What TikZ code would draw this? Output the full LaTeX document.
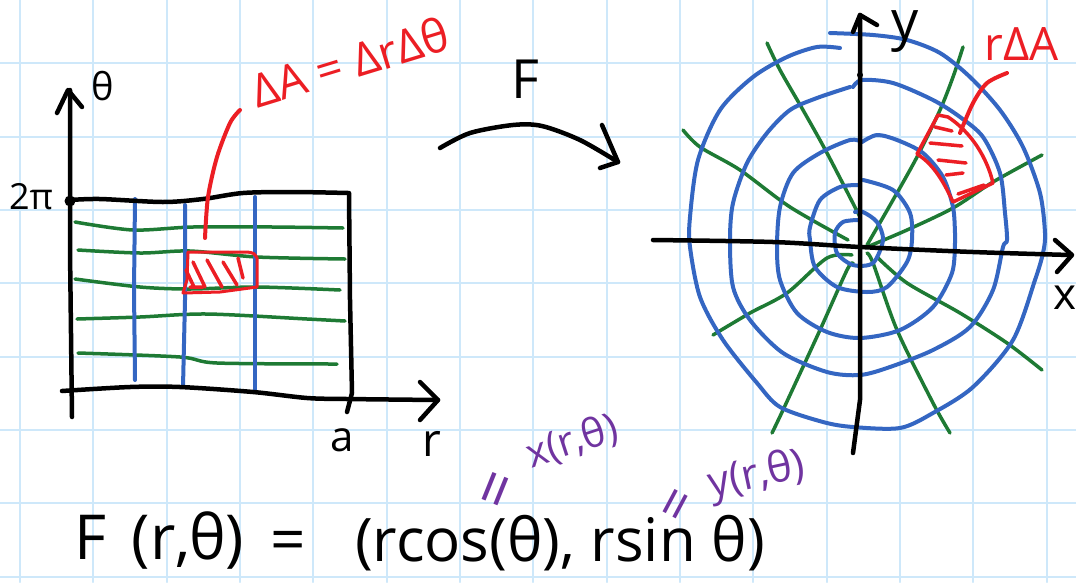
\documentclass[tikz,border=0pt]{standalone}
\usepackage{fontspec}
\setmainfont{Open Sans}
\definecolor{gridc}{RGB}{206,232,250}
\definecolor{pblue}{RGB}{52,102,194}
\definecolor{pgreen}{RGB}{30,122,52}
\definecolor{pred}{RGB}{236,30,36}
\definecolor{ppurple}{RGB}{112,52,160}
\begin{document}
\begin{tikzpicture}[x=1pt,y=-1pt, line cap=round, line join=round,
  ink/.style={black, line width=4.5pt},
  bl/.style={pblue, line width=4pt},
  gr/.style={pgreen, line width=3.5pt},
  rd/.style={pred, line width=4pt},
  lab/.style={inner sep=0pt, outer sep=0pt},
  gl/.style={gridc, line width=2pt}]
\useasboundingbox (0,0) rectangle (1076,582);
\fill[white] (0,0) rectangle (1076,582);
% graph paper
\foreach \i in {0,...,14} \draw[gl] ({20+73.33*\i},0) -- ({20+73.33*\i},582);
\foreach \j in {0,...,8} \draw[gl] (0,{-10+73.33*\j}) -- (1076,{-10+73.33*\j});

% ---------- left: (r,theta) rectangle ----------
\draw[gr] plot[smooth] coordinates {(75,222) (133,230) (193,227) (273,227) (343,228)};
\draw[gr] plot[smooth] coordinates {(78,250) (140,253) (190,251) (257,257) (345,259)};
\draw[gr] plot[smooth] coordinates {(75,279) (140,287) (190,289) (257,287) (340,290)};
\draw[gr] plot[smooth] coordinates {(77,319) (140,317) (207,314) (307,319) (345,321)};
\draw[gr] plot[smooth] coordinates {(78,353) (180,357) (217,363) (337,364)};
\draw[bl] (135,199) -- (134,290) -- (135,380);
\draw[bl] (185,205) -- (185,300) -- (183,387);
\draw[bl] (255,197) -- (255,392);
% red patch
\draw[rd, line width=3pt] (188,252) -- (247,252) .. controls (254,253) .. (257,258) -- (257,287) -- (220,292) -- (183,293) -- (187,280) -- cycle;
\draw[rd, line width=3.5pt] (193,262) -- (205,287) (207,260) -- (222,287) (223,262) -- (237,285) (238,258) -- (243,278) (190,287) -- (203,287) (186,270) -- (194,287);
% axes and box
\draw[ink] plot[smooth] coordinates {(70,200) (100,199) (163,202) (203,199) (243,193) (293,192) (348,193)};
\draw[ink] (349,193) -- (350,300) -- (352,393) -- (347,412);
\draw[ink] (70,90) -- (70,250) -- (72,417);
\draw[ink] (57,113) -- (68,90) -- (82,107);
\draw[ink] plot[smooth] coordinates {(62,391) (130,387) (180,387) (253,392) (307,398) (347,399) (438,400)};
\draw[ink] (420,382) -- (438,400) -- (420,420);
\fill (70,201) circle (5.5);
\node[lab, font=\fontsize{38}{38}\selectfont] (th) at (103,86) {θ};
\node[lab, font=\fontsize{36}{36}\selectfont] (tp) at (31,197) {2π};
\node[lab, font=\fontsize{42}{42}\selectfont] (aa) at (342,440) {a};
\node[lab, font=\fontsize{46}{46}\selectfont] (rr) at (432,444) {r};
% leader and label
\draw[rd] plot[smooth] coordinates {(205,238) (208,197) (217,157) (230,123) (240,110)};
\node[lab, pred, rotate=17, font=\fontsize{46}{46}\selectfont] (dA) at (350,62) {ΔA = ΔrΔθ};

% ---------- map F ----------
\draw[ink] plot[smooth] coordinates {(440,148) (470,133) (513,125) (542,126) (580,140) (618,162)};
\draw[ink] (602,125) -- (618,162) -- (600,168);
\node[lab, font=\fontsize{54}{54}\selectfont] (F) at (525,79) {F};

% ---------- right: polar picture ----------
\draw[gr] plot[smooth] coordinates {(867,245) (893,200) (917,157) (940,110) (953,77) (963,47)};
\draw[gr] plot[smooth] coordinates {(867,247) (907,230) (953,208) (993,182) (1042,155)};
\draw[gr] plot[smooth] coordinates {(860,217) (827,153) (803,110) (780,70) (767,43)};
\draw[gr] plot[smooth] coordinates {(848,240) (790,207) (740,170) (700,147) (683,130)};
\draw[gr] plot[smooth] coordinates {(852,255) (827,258) (787,293) (750,313) (713,335)};
\draw[gr] plot[smooth] coordinates {(853,263) (847,270) (820,330) (783,410) (772,433)};
\draw[gr] plot[smooth] coordinates {(867,253) (873,263) (897,330) (933,403) (950,433)};
\draw[gr] plot[smooth] coordinates {(877,257) (907,283) (960,313) (1007,343) (1042,370)};
% circles
\draw[bl] plot[smooth] coordinates {(858,220) (843,222) (835,233) (837,253) (853,265) (873,263) (883,240) (877,222) (863,212) (855,212)};
\draw[bl] plot[smooth] coordinates {(863,180) (893,190) (910,213) (912,240) (907,262) (887,287) (867,292) (837,287) (815,267) (810,240) (810,227) (820,200) (840,187) (858,185)};
\draw[bl] plot[smooth] coordinates {(862,142) (877,135) (897,140) (923,153) (943,177) (953,207) (955,233) (955,243) (952,273) (933,307) (900,330) (860,338) (827,332) (797,313) (780,280) (777,247) (780,207) (793,173) (820,153) (850,140) (862,142)};
\draw[bl] plot[smooth] coordinates {(853,87) (862,80) (893,83) (933,100) (960,117) (983,137) (1000,173) (1005,213) (1007,240) (1003,247) (993,290) (970,327) (933,350) (890,367) (860,375) (827,372) (783,353) (750,320) (733,287) (730,240) (733,203) (747,163) (767,133) (790,110) (817,98) (850,87)};
\draw[bl] plot[smooth] coordinates {(830,33) (873,35) (907,40) (940,53) (970,77) (1000,110) (1023,147) (1040,193) (1045,233) (1043,253) (1035,280) (1013,340) (973,387) (933,413) (900,428) (853,427) (823,422) (780,407) (757,383) (723,340) (700,297) (690,247) (690,217) (698,160) (720,110) (753,77) (787,57) (817,47) (840,48)};
% red sector
\draw[rd, line width=3.5pt] (917,154) -- (938,115) -- (948,117) .. controls (965,128) and (985,150) .. (993,183) -- (953,202) .. controls (945,185) and (935,165) .. (917,154) -- cycle;
\draw[rd, line width=3.5pt] (935,127) -- (952,131) (930,143) -- (962,146) (938,160) -- (966,163) (946,175) -- (963,173) (958,194) -- (984,185);
\draw[rd] plot[smooth] coordinates {(960,133) (973,103) (987,83) (1007,73)};
\node[lab, pred, font=\fontsize{46}{46}\selectfont] (rdA) at (1022,44) {rΔA};
% axes
\draw[ink] (860,15) -- (860,400) -- (853,453);
\draw[ink] (853,32) -- (860,15) -- (877,25);
\fill (860,75) circle (3);
\draw[ink] plot[smooth] coordinates {(653,240) (773,242) (860,247) (973,252) (1070,255)};
\draw[ink] (1055,240) -- (1072,255) -- (1057,272);
\node[lab, font=\fontsize{54}{54}\selectfont] (yl) at (905,32) {y};
\node[lab, font=\fontsize{44}{44}\selectfont] (xl) at (1065,298) {x};

% ---------- formula ----------
\node[lab, font=\fontsize{62}{62}\selectfont] (f1) at (90,537) {F};
\node[lab, font=\fontsize{62}{62}\selectfont] (f2) at (188,540) {(r,θ)};
\node[lab, font=\fontsize{62}{62}\selectfont] (f3) at (288,546) {=};
\node[lab, font=\fontsize{60}{60}\selectfont] (f4) at (560,543) {(rcos(θ), rsin θ)};
\node[lab, ppurple, rotate=68, font=\fontsize{64}{64}\selectfont] (e1) at (502,492) {=};
\node[lab, ppurple, rotate=18, font=\fontsize{40}{40}\selectfont] (x1) at (572,442) {x(r,θ)};
\node[lab, ppurple, rotate=62, font=\fontsize{56}{56}\selectfont] (e2) at (681,507) {=};
\node[lab, ppurple, rotate=12, font=\fontsize{42}{42}\selectfont] (y1) at (757,476) {y(r,θ)};
\end{tikzpicture}
\end{document}
